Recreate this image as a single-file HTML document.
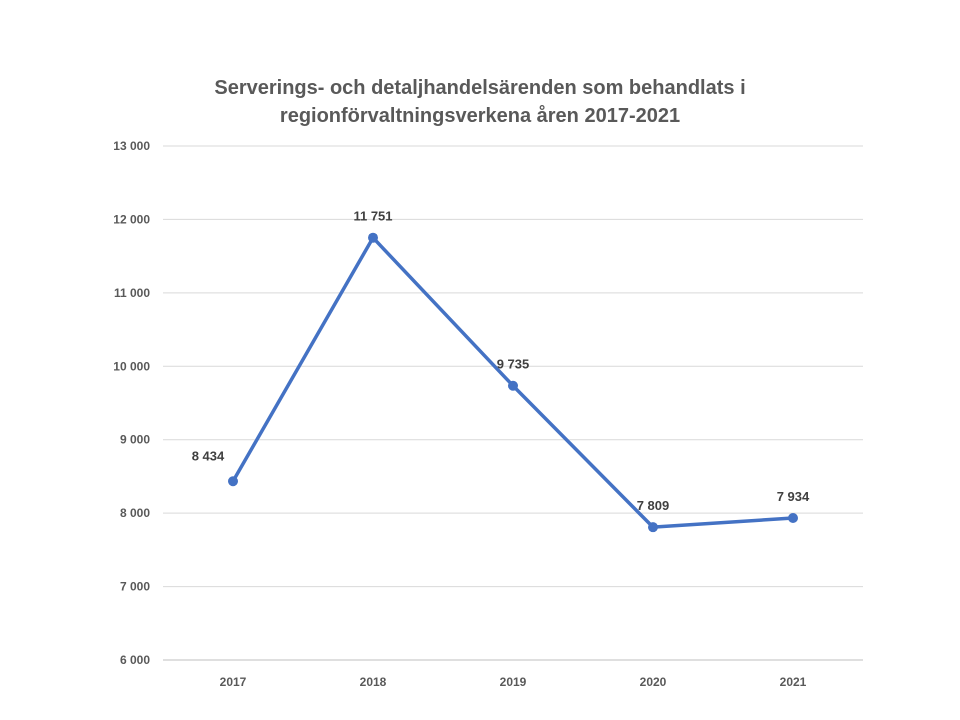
<!DOCTYPE html>
<html><head><meta charset="utf-8"><style>
html,body{margin:0;padding:0;background:#fff;}
svg{display:block;font-family:"Liberation Sans",Arial,sans-serif;}
</style></head><body>
<svg id="chart" width="960" height="720">
<text x="480" y="94" text-anchor="middle" font-size="20" font-weight="bold" fill="#595959">Serverings- och detaljhandelsärenden som behandlats i</text>
<text x="480" y="122" text-anchor="middle" font-size="20" font-weight="bold" fill="#595959">regionförvaltningsverkena åren 2017-2021</text>
<g id="grid"></g><g id="yticks"></g><g id="xticks"></g><g id="series"></g>
</svg>
<script>
const categories = ["2017","2018","2019","2020","2021"];
const values = [8434, 11751, 9735, 7809, 7934];
const valueLabels = ["8 434","11 751","9 735","7 809","7 934"];
const yTicks = [6000,7000,8000,9000,10000,11000,12000,13000];
const yTickLabels = ["6 000","7 000","8 000","9 000","10 000","11 000","12 000","13 000"];
const SVGNS="http://www.w3.org/2000/svg";
const plotLeft=163,plotRight=863,plotTop=146,plotBottom=660,yMin=6000,yMax=13000;
const band=(plotRight-plotLeft)/categories.length;
function xPos(i){return plotLeft+band*(i+0.5);}
function yPos(v){return plotBottom-(v-yMin)/(yMax-yMin)*(plotBottom-plotTop);}
function mk(tag,attrs,parent,text){const e=document.createElementNS(SVGNS,tag);for(const k in attrs)e.setAttribute(k,attrs[k]);if(text!==undefined)e.textContent=text;parent.appendChild(e);return e;}
const gGrid=document.getElementById('grid'),gY=document.getElementById('yticks'),gX=document.getElementById('xticks'),gS=document.getElementById('series');
yTicks.forEach((t,i)=>{
  const l=mk('line',{x1:plotLeft,x2:plotRight,y1:yPos(t),y2:yPos(t),stroke:i===0?'#bfbfbf':'#d9d9d9','stroke-width':1},gGrid);
  
  
  const tx=mk('text',{x:150,y:yPos(t)+4,'text-anchor':'end','font-size':12,'font-weight':'bold',fill:'#595959'},gY,yTickLabels[i]);
  
  
});
categories.forEach((c,i)=>{
  const tx=mk('text',{x:xPos(i),y:686,'text-anchor':'middle','font-size':12,'font-weight':'bold',fill:'#595959'},gX,c);
  
  
});
const pts=values.map((v,i)=>xPos(i)+','+yPos(v)).join(' ');
const pl=mk('polyline',{points:pts,fill:'none',stroke:'#4472c4','stroke-width':3.5,'stroke-linejoin':'round'},gS);


values.forEach((v,i)=>{
  const c=mk('circle',{cx:xPos(i),cy:yPos(v),r:5,fill:'#4472c4'},gS);
  
  
  const lx=(i===0)?xPos(i)-25:xPos(i);
  const ly=(i===0)?yPos(v)-21:yPos(v)-17;
  const t=mk('text',{x:lx,y:ly,'text-anchor':'middle','font-size':13,'font-weight':'bold',fill:'#404040'},gS,valueLabels[i]);
  
  
});
</script>
</body></html>
